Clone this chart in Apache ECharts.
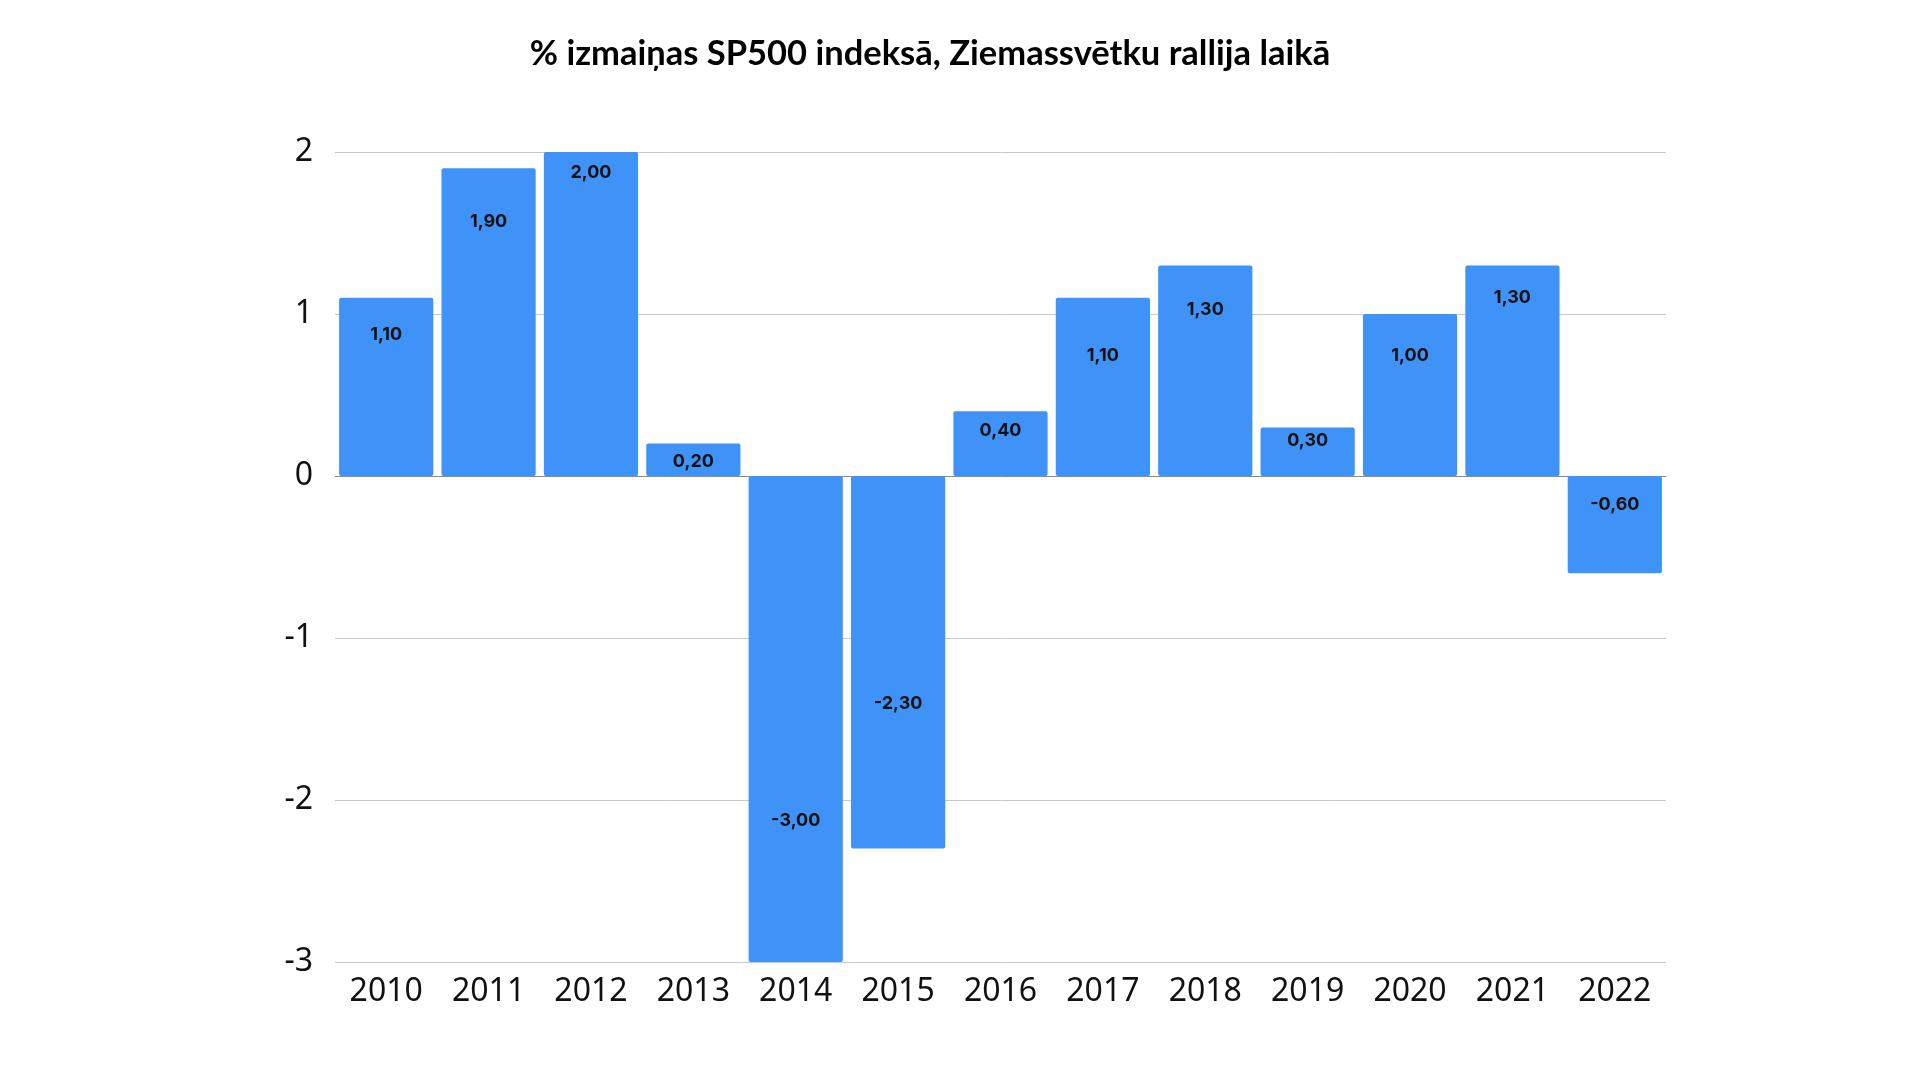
<!DOCTYPE html>
<html>
<head>
<meta charset="utf-8">
<title>SP500 Ziemassvētku rallijs</title>
<script src="https://cdn.jsdelivr.net/npm/echarts@6/dist/echarts.min.js"></script>
<style>
  html, body { margin: 0; padding: 0; background: #fff; }
  #chart { width: 1920px; height: 1080px; }
</style>
</head>
<body>
<div id="chart"></div>
<script>
// data
const years = ['2010', '2011', '2012', '2013', '2014', '2015', '2016', '2017', '2018', '2019', '2020', '2021', '2022'];
const changes = [1.1, 1.9, 2.0, 0.2, -3.0, -2.3, 0.4, 1.1, 1.3, 0.3, 1.0, 1.3, -0.6];
const yTicks = { min: -3, max: 2, step: 1 };

// how far down inside each bar the value label sits (px), as in the original
const labelDist = [28, 44, 12, 9, 336, 219, 10, 49, 35, 4, 33, 23, 20];

const chart = echarts.init(document.getElementById('chart'));

const option = {
  backgroundColor: '#ffffff',
  animation: false,
  title: {
    text: '% izmaiņas SP500 indeksā, Ziemassvētku rallija laikā',
    left: 930,
    textAlign: 'center',
    top: 36,
    padding: 0,
    textStyle: {
      fontFamily: 'Lato',
      fontWeight: 'bold',
      fontSize: 34.5,
      color: '#000'
    }
  },
  grid: {
    left: 335,
    right: 254,
    top: 152,
    bottom: 118
  },
  xAxis: {
    type: 'category',
    data: years,
    axisTick: { show: false },
    axisLine: { lineStyle: { color: '#8c8c8c', width: 1 } },
    axisLabel: {
      fontFamily: 'Noto Sans',
      fontSize: 32,
      color: '#111',
      margin: 14
    }
  },
  yAxis: {
    type: 'value',
    min: yTicks.min,
    max: yTicks.max,
    interval: yTicks.step,
    axisLine: { show: false },
    axisTick: { show: false },
    splitLine: { lineStyle: { color: '#c8c8c8', width: 1 } },
    axisLabel: {
      fontFamily: 'Noto Sans',
      fontSize: 32,
      color: '#111',
      margin: 22
    }
  },
  series: [{
    type: 'bar',
    barCategoryGap: '8%',
    itemStyle: { color: '#3f93f8', borderRadius: 2 },
    data: changes.map((v, i) => ({
      value: v,
      label: { distance: labelDist[i] }
    })),
    label: {
      show: true,
      position: 'insideTop',
      fontFamily: 'Inter',
      fontWeight: 'bold',
      fontSize: 18,
      color: '#111',
      formatter: p => p.value.toFixed(2).replace('.', ',')
    }
  }]
};

chart.setOption(option);
</script>
</body>
</html>
